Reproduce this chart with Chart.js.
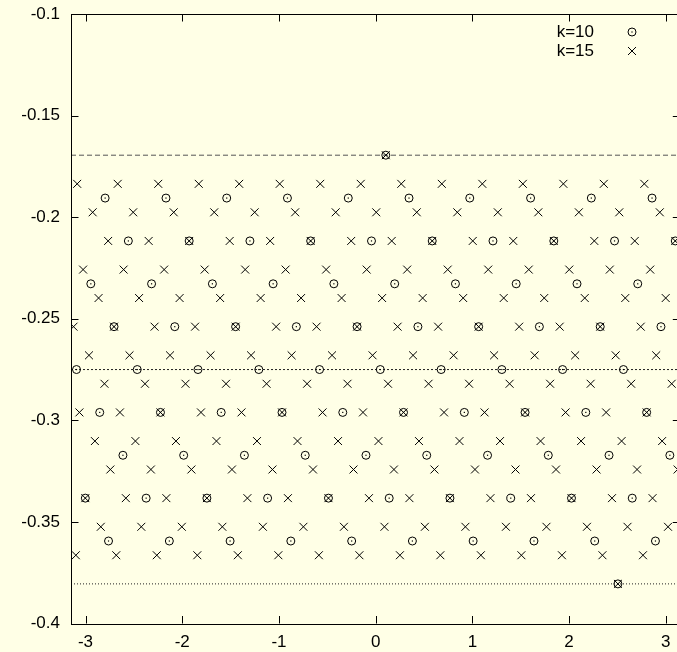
<!DOCTYPE html>
<html>
<head>
<meta charset="UTF-8">
<title>k=10 / k=15</title>
<script src="https://cdn.jsdelivr.net/npm/chart.js"></script>
<style>
    html, body {
        margin: 0;
        padding: 0;
        overflow: hidden;
        background: #ffffe6;
    }
    .wrap {
        width: 690px;
        height: 652px;
    }
</style>
</head>
<body>
<div class="wrap">
    <canvas id="chart" width="690" height="652"></canvas>
</div>
<script>
// tick labels
var xTicks = [-3, -2, -1, 0, 1, 2, 3];
var yTicks = [-0.4, -0.35, -0.3, -0.25, -0.2, -0.15, -0.1];

// reference levels (dashed top, dotted middle, dotted bottom)
var refLevels = [-0.1695, -0.275, -0.3805];

// k=10 : one row of x values per level
var k10y = [-0.1695, -0.1906, -0.2117, -0.2328, -0.2539, -0.2750, -0.2961, -0.3172, -0.3383, -0.3594, -0.3805];
var k10x = [
    [0.105],
    [-2.797, -2.168, -1.540, -0.912, -0.283, 0.345, 0.973, 1.602, 2.230, 2.858],
    [-2.557, -1.928, -1.300, -0.672, -0.043, 0.585, 1.213, 1.842, 2.470, 3.098],
    [-2.945, -2.317, -1.688, -1.060, -0.432, 0.197, 0.825, 1.453, 2.082, 2.710],
    [-2.705, -2.077, -1.448, -0.820, -0.192, 0.437, 1.065, 1.693, 2.322, 2.950],
    [-3.093, -2.465, -1.837, -1.208, -0.580, 0.048, 0.677, 1.305, 1.933, 2.562],
    [-2.853, -2.225, -1.597, -0.968, -0.340, 0.288, 0.917, 1.545, 2.173, 2.802],
    [-2.613, -1.985, -1.357, -0.728, -0.100, 0.528, 1.157, 1.785, 2.413, 3.042],
    [-3.002, -2.373, -1.745, -1.117, -0.488, 0.140, 0.768, 1.397, 2.025, 2.653],
    [-2.762, -2.133, -1.505, -0.877, -0.248, 0.380, 1.008, 1.637, 2.265, 2.893],
    [2.505]
];

// k=15
var k15y = [-0.1695, -0.1836, -0.1976, -0.2117, -0.2258, -0.2398, -0.2539, -0.2680, -0.2820, -0.2961, -0.3102, -0.3242, -0.3383, -0.3524, -0.3664, -0.3805];
var k15x = [
    [0.105],
    [-3.086, -2.667, -2.248, -1.829, -1.411, -0.992, -0.573, -0.154, 0.265, 0.684, 1.103, 1.522, 1.941, 2.359, 2.778],
    [-2.926, -2.507, -2.088, -1.669, -1.251, -0.832, -0.413, 0.006, 0.425, 0.844, 1.263, 1.682, 2.101, 2.519, 2.938],
    [-2.766, -2.347, -1.928, -1.509, -1.091, -0.672, -0.253, 0.166, 0.585, 1.004, 1.423, 1.842, 2.261, 2.679, 3.098],
    [-3.025, -2.606, -2.187, -1.768, -1.349, -0.931, -0.512, -0.093, 0.326, 0.745, 1.164, 1.583, 2.002, 2.421, 2.839],
    [-2.865, -2.446, -2.027, -1.608, -1.189, -0.771, -0.352, 0.067, 0.486, 0.905, 1.324, 1.743, 2.162, 2.581, 2.999],
    [-3.124, -2.705, -2.286, -1.867, -1.448, -1.029, -0.611, -0.192, 0.227, 0.646, 1.065, 1.484, 1.903, 2.322, 2.741],
    [-2.964, -2.545, -2.126, -1.707, -1.288, -0.869, -0.451, -0.032, 0.387, 0.806, 1.225, 1.644, 2.063, 2.482, 2.901],
    [-2.804, -2.385, -1.966, -1.547, -1.128, -0.709, -0.291, 0.128, 0.547, 0.966, 1.385, 1.804, 2.223, 2.642, 3.061],
    [-3.063, -2.644, -2.225, -1.806, -1.387, -0.968, -0.549, -0.131, 0.288, 0.707, 1.126, 1.545, 1.964, 2.383, 2.802],
    [-2.903, -2.484, -2.065, -1.646, -1.227, -0.808, -0.389, 0.029, 0.448, 0.867, 1.286, 1.705, 2.124, 2.543, 2.962],
    [-2.743, -2.324, -1.905, -1.486, -1.067, -0.648, -0.229, 0.189, 0.608, 1.027, 1.446, 1.865, 2.284, 2.703, 3.122],
    [-3.002, -2.583, -2.164, -1.745, -1.326, -0.907, -0.488, -0.069, 0.349, 0.768, 1.187, 1.606, 2.025, 2.444, 2.863],
    [-2.842, -2.423, -2.004, -1.585, -1.166, -0.747, -0.328, 0.091, 0.509, 0.928, 1.347, 1.766, 2.185, 2.604, 3.023],
    [-3.100, -2.682, -2.263, -1.844, -1.425, -1.006, -0.587, -0.168, 0.251, 0.669, 1.088, 1.507, 1.926, 2.345, 2.764],
    [2.505]
];

var xMin = -3.15, xMax = 3.15;
var FONT = "'Liberation Sans', Arial, sans-serif";

function toPoints(xs, ys) {
    var pts = [];
    for (var i = 0; i < xs.length; i++) {
        for (var j = 0; j < xs[i].length; j++) {
            pts.push({ x: xs[i][j], y: ys[i] });
        }
    }
    return pts;
}

function refLine(y, dash, color) {
    return {
        type: 'line',
        label: '',
        data: [{ x: xMin, y: y }, { x: xMax, y: y }],
        borderColor: color,
        borderWidth: 1,
        borderDash: dash,
        pointRadius: 0,
        fill: false,
        showLine: true
    };
}

var bgPlugin = {
    id: 'bg',
    beforeDraw: function (chart) {
        var ctx = chart.ctx;
        ctx.save();
        ctx.fillStyle = '#ffffe6';
        ctx.fillRect(0, 0, chart.width, chart.height);
        ctx.restore();
    }
};

var framePlugin = {
    id: 'frame',
    afterDatasetsDraw: function (chart) {
        var ctx = chart.ctx, a = chart.chartArea;
        var xs = chart.scales.x, ys = chart.scales.y;
        var len = 7.5;
        ctx.save();

        // centre dot of the k=10 circles
        ctx.fillStyle = '#000';
        chart.getDatasetMeta(0).data.forEach(function (p) {
            ctx.fillRect(p.x - 0.6, p.y - 0.6, 1.2, 1.2);
        });

        ctx.strokeStyle = '#000';
        ctx.lineWidth = 1;
        ctx.beginPath();
        ctx.rect(Math.round(a.left) + 0.5, Math.round(a.top) + 0.5,
                 Math.round(a.right) - Math.round(a.left), Math.round(a.bottom) - Math.round(a.top));
        xTicks.forEach(function (v) {
            var px = Math.round(xs.getPixelForValue(v)) + 0.5;
            ctx.moveTo(px, a.bottom);
            ctx.lineTo(px, a.bottom - len);
            ctx.moveTo(px, a.top);
            ctx.lineTo(px, a.top + len);
        });
        yTicks.forEach(function (v) {
            var py = Math.round(ys.getPixelForValue(v)) + 0.5;
            ctx.moveTo(a.left, py);
            ctx.lineTo(a.left + len, py);
            ctx.moveTo(a.right, py);
            ctx.lineTo(a.right - len, py);
        });
        ctx.stroke();

        // key, text first then sample
        ctx.font = '17px ' + FONT;
        ctx.textAlign = 'right';
        ctx.textBaseline = 'middle';
        var keys = [chart.data.datasets[0], chart.data.datasets[1]];
        keys.forEach(function (ds, i) {
            var ky = 32 + i * 19;
            ctx.fillText(ds.label, 594, ky);
            ctx.beginPath();
            if (i === 0) {
                ctx.arc(632, ky, 4, 0, Math.PI * 2);
                ctx.stroke();
                ctx.fillRect(631.4, ky - 0.6, 1.2, 1.2);
            } else {
                ctx.moveTo(628, ky - 4);
                ctx.lineTo(636, ky + 4);
                ctx.moveTo(636, ky - 4);
                ctx.lineTo(628, ky + 4);
                ctx.stroke();
            }
        });
        ctx.restore();
    }
};

new Chart(document.getElementById('chart'), {
    type: 'scatter',
    data: {
        datasets: [
            {
                label: 'k=10',
                data: toPoints(k10x, k10y),
                pointStyle: 'circle',
                pointRadius: 4,
                borderWidth: 1,
                borderColor: '#000',
                backgroundColor: 'rgba(0,0,0,0)'
            },
            {
                label: 'k=15',
                data: toPoints(k15x, k15y),
                pointStyle: 'crossRot',
                pointRadius: 5.6,
                borderWidth: 1,
                borderColor: '#000',
                backgroundColor: '#000'
            },
            refLine(refLevels[0], [5, 3], '#555'),
            refLine(refLevels[1], [2, 2], '#222'),
            refLine(refLevels[2], [1, 2], '#222')
        ]
    },
    options: {
        responsive: false,
        animation: false,
        events: [],
        layout: { padding: { top: 14, right: 9.7, left: 0, bottom: 0 } },
        plugins: {
            legend: { display: false },
            tooltip: { enabled: false }
        },
        scales: {
            x: {
                type: 'linear',
                min: xMin,
                max: xMax,
                afterBuildTicks: function (s) {
                    s.ticks = xTicks.map(function (v) { return { value: v }; });
                },
                afterFit: function (s) {
                    s.height = 28.5;
                    s.paddingLeft = 0;
                    s.paddingRight = 0;
                },
                grid: { display: false, drawTicks: false },
                border: { display: false },
                ticks: {
                    padding: 9,
                    color: '#000',
                    font: { family: FONT, size: 17 },
                    maxRotation: 0,
                    callback: function (v) { return String(v); }
                }
            },
            y: {
                type: 'linear',
                min: yTicks[0],
                max: yTicks[yTicks.length - 1],
                afterBuildTicks: function (s) {
                    s.ticks = yTicks.map(function (v) { return { value: v }; });
                },
                afterFit: function (s) {
                    s.width = 71;
                    s.paddingTop = 0;
                    s.paddingBottom = 0;
                },
                grid: { display: false, drawTicks: false },
                border: { display: false },
                ticks: {
                    padding: 11,
                    color: '#000',
                    font: { family: FONT, size: 17 },
                    callback: function (v) { return String(v); }
                }
            }
        }
    },
    plugins: [bgPlugin, framePlugin]
});
</script>
</body>
</html>
